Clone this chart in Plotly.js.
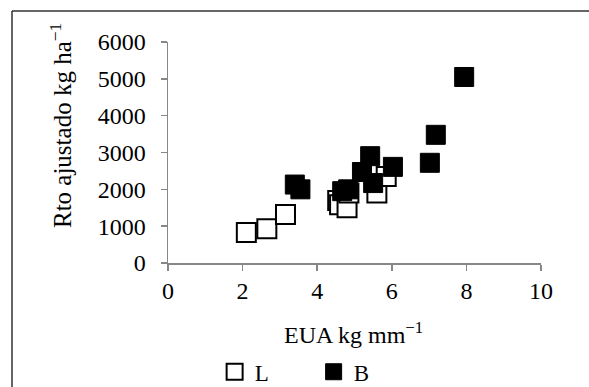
<!DOCTYPE html>
<html>
<head>
<meta charset="utf-8">
<script src="https://cdn.plot.ly/plotly-3.0.1.min.js"></script>
<style>html,body{margin:0;padding:0;background:#fff;}#chart{width:589px;height:387px;}</style>
</head>
<body>
<div id="chart"></div>
<script>
// Series L (open squares)
const L_x = [2.1, 2.65, 3.15, 4.55, 4.6, 4.8, 4.85, 5.6, 5.85];
const L_y = [830, 930, 1320, 1700, 1580, 1500, 1900, 1900, 2350];
// Series B (filled squares)
const B_x = [3.4, 3.55, 4.67, 4.83, 5.2, 5.42, 5.5, 6.03, 7.02, 7.18, 7.94];
const B_y = [2130, 2000, 1950, 2000, 2470, 2900, 2170, 2610, 2720, 3480, 5050];
// Axis ticks
const xTicks = [0, 2, 4, 6, 8, 10];
const yTicks = [0, 1000, 2000, 3000, 4000, 5000, 6000];

const axisColor = '#878787';
function serif(size) { return {family: 'Liberation Serif', size: size, color: '#000'}; }

const traces = [
  {
    x: L_x, y: L_y, name: 'L', type: 'scatter', mode: 'markers',
    marker: {symbol: 'square', size: 19, color: '#ffffff', line: {color: '#000000', width: 2}},
    cliponaxis: false
  },
  {
    x: B_x, y: B_y, name: 'B', type: 'scatter', mode: 'markers',
    marker: {symbol: 'square', size: 19, color: '#000000', line: {color: '#000000', width: 1}},
    cliponaxis: false
  }
];

const layout = {
  width: 589, height: 387,
  margin: {l: 168, r: 48, t: 42, b: 124, autoexpand: false},
  paper_bgcolor: '#ffffff', plot_bgcolor: '#ffffff',
  showlegend: true,
  legend: {
    orientation: 'h', x: 0.125, xanchor: 'left', y: -0.395, yanchor: 'top',
    font: serif(23),
    entrywidth: 54, entrywidthmode: 'pixels', bgcolor: 'rgba(0,0,0,0)', borderwidth: 0
  },
  xaxis: {
    range: [0, 10], tickvals: xTicks, ticktext: xTicks.map(String),
    showgrid: false, zeroline: false, showline: true, linecolor: axisColor, linewidth: 1.5,
    ticks: 'outside', ticklen: 6, tickwidth: 1.5, tickcolor: axisColor,
    tickfont: serif(24), fixedrange: true
  },
  yaxis: {
    range: [0, 6000], tickvals: yTicks, ticktext: yTicks.map(String),
    showgrid: false, zeroline: false, showline: true, linecolor: axisColor, linewidth: 1.5,
    ticks: 'outside', ticklen: 6, tickwidth: 1.5, tickcolor: axisColor,
    tickfont: serif(24), ticklabelstandoff: 10, fixedrange: true
  },
  annotations: [
    {text: 'Rto ajustado kg ha<sup>−1</sup>', xref: 'paper', yref: 'paper', x: -0.287, y: 0.624,
     textangle: -90, showarrow: false, xanchor: 'center', yanchor: 'middle', font: serif(25)},
    {text: 'EUA kg mm<sup>−1</sup>', xref: 'paper', yref: 'paper', x: 0.496, y: -0.317,
     showarrow: false, xanchor: 'center', yanchor: 'middle', font: serif(24)}
  ],
  shapes: [
    {type: 'line', xref: 'paper', yref: 'paper', x0: -0.4182, x1: 1.13, y0: 1.1403, y1: 1.1403,
     line: {color: '#333333', width: 1.5}},
    {type: 'line', xref: 'paper', yref: 'paper', x0: -0.4182, x1: -0.4182, y0: 1.1403, y1: -0.58,
     line: {color: '#333333', width: 1.5}}
  ]
};

Plotly.newPlot('chart', traces, layout, {displayModeBar: false, staticPlot: true});
</script>
</body>
</html>
